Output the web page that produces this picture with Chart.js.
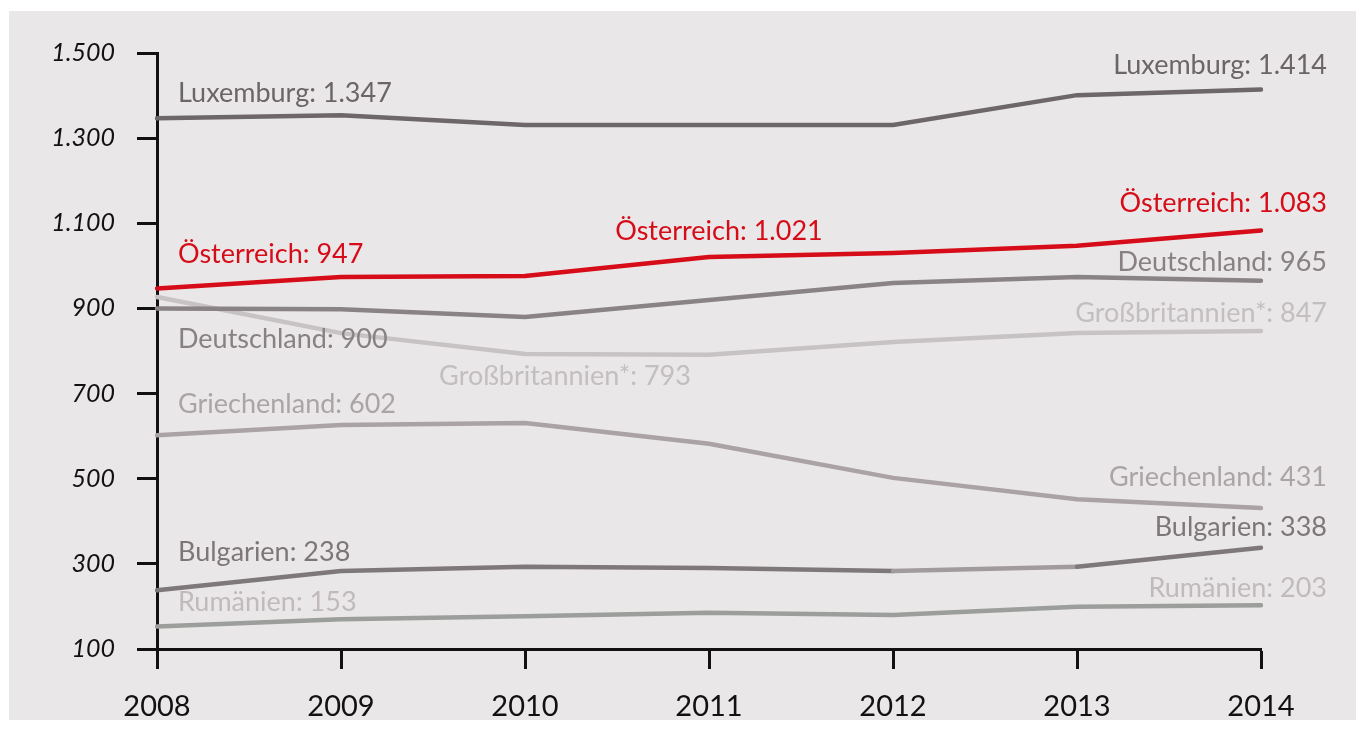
<!DOCTYPE html>
<html>
<head>
<meta charset="utf-8">
<script src="https://cdn.jsdelivr.net/npm/chart.js@4"></script>
<style>
  html, body { margin: 0; padding: 0; background: #fff; overflow: hidden; }
  .panel { position: absolute; left: 9px; top: 11px; width: 1347px; height: 709px; background: #e9e7e8; }
  .wrap { position: absolute; left: 0; top: 0; width: 1358px; height: 742px; }
</style>
</head>
<body>
<div class="panel"></div>
<div class="wrap"><canvas id="chart" width="1358" height="742"></canvas></div>
<script>
const years = ["2008", "2009", "2010", "2011", "2012", "2013", "2014"];
const yTicks = [100, 300, 500, 700, 900, 1100, 1300, 1500];

const luxemburg = [1347, 1354, 1331, 1331, 1331, 1401, 1414];
const oesterreich = [947, 974, 976, 1021, 1030, 1047, 1083];
const deutschland = [900, 898, 880, 920, 960, 974, 965];
const grossbritannien = [927, 842, 793, 791, 821, 842, 847];
const griechenland = [602, 626, 631, 582, 502, 452, 431];
const bulgarien = [238, 283, 293, 290, 283, 293, 338];
const rumaenien = [153, 170, 177, 185, 180, 199, 203];

const FONT = "Lato, 'Open Sans', sans-serif";

function formatDe(v) {
  return String(v).replace(/\B(?=(\d{3})+(?!\d))/g, ".");
}

// name, data, line colour, text colour
const series = [
  { name: "Österreich", data: oesterreich, line: "#d60c18", text: "#d60c18" },
  { name: "Luxemburg", data: luxemburg, line: "#6e6769", text: "#6b6567" },
  { name: "Deutschland", data: deutschland, line: "#8a8385", text: "#878183" },
  { name: "Bulgarien", data: bulgarien, line: "#7f787b", text: "#7d7679" },
  { name: "Großbritannien*", data: grossbritannien, line: "#c7c2c4", text: "#c3bec0" },
  { name: "Griechenland", data: griechenland, line: "#aaa2a5", text: "#aba4a7" },
  { name: "Rumänien", data: rumaenien, line: "#9c9e9c", text: "#c0babd" }
];

// which point gets a label and where it sits relative to that point
const labels = [
  { s: "Luxemburg", i: 0, align: "left", dx: 21, dy: -25 },
  { s: "Luxemburg", i: 6, align: "right", dx: 66, dy: -24 },
  { s: "Österreich", i: 0, align: "left", dx: 21, dy: -34 },
  { s: "Österreich", i: 3, align: "center", dx: 10, dy: -26 },
  { s: "Österreich", i: 6, align: "right", dx: 66, dy: -27 },
  { s: "Deutschland", i: 0, align: "left", dx: 21, dy: 31 },
  { s: "Deutschland", i: 6, align: "right", dx: 66, dy: -18 },
  { s: "Großbritannien*", i: 2, align: "center", dx: 40, dy: 22 },
  { s: "Großbritannien*", i: 6, align: "right", dx: 66, dy: -18 },
  { s: "Griechenland", i: 0, align: "left", dx: 21, dy: -31 },
  { s: "Griechenland", i: 6, align: "right", dx: 66, dy: -31 },
  { s: "Bulgarien", i: 0, align: "left", dx: 21, dy: -38 },
  { s: "Bulgarien", i: 6, align: "right", dx: 66, dy: -20 },
  { s: "Rumänien", i: 0, align: "left", dx: 21, dy: -24 },
  { s: "Rumänien", i: 6, align: "right", dx: 66, dy: -17 }
];

const lineLabels = {
  id: "lineLabels",
  afterDatasetsDraw(chart) {
    const ctx = chart.ctx;
    const x = chart.scales.x;
    const y = chart.scales.y;
    ctx.save();
    ctx.font = "27px " + FONT;
    ctx.textBaseline = "middle";
    labels.forEach((l) => {
      const s = series.find((d) => d.name === l.s);
      const px = x.getPixelForValue(l.i);
      const py = y.getPixelForValue(s.data[l.i]);
      ctx.fillStyle = s.text;
      ctx.textAlign = l.align;
      ctx.fillText(s.name + ": " + formatDe(s.data[l.i]), px + l.dx, py + l.dy);
    });
    ctx.restore();
  }
};

const datasets = series.map((s, k) => ({
  label: s.name,
  data: s.data,
  borderColor: s.line,
  borderWidth: 4.5,
  borderCapStyle: "round",
  pointRadius: 0,
  tension: 0,
  order: k,
  segment: s.name === "Bulgarien"
    ? { borderColor: (c) => (c.p0DataIndex === 4 ? "#a29b9e" : undefined) }
    : undefined
}));

new Chart(document.getElementById("chart"), {
  type: "line",
  data: { labels: years, datasets: datasets },
  options: {
    responsive: false,
    animation: false,
    devicePixelRatio: 1,
    layout: { padding: { top: 53, right: 97, left: 0, bottom: 0 } },
    plugins: { legend: { display: false }, tooltip: { enabled: false } },
    scales: {
      x: {
        offset: false,
        grid: { drawOnChartArea: false, drawTicks: true, tickLength: 20, tickWidth: 3, tickColor: "#111", offset: false },
        border: { display: true, color: "#111", width: 3 },
        ticks: { color: "#111", font: { family: FONT, size: 29 }, padding: 20, maxRotation: 0 },
        afterFit(scale) { scale.height = 93; }
      },
      y: {
        min: 100,
        max: 1500,
        afterBuildTicks(scale) { scale.ticks = yTicks.map((v) => ({ value: v })); },
        grid: { drawOnChartArea: false, drawTicks: true, tickLength: 20, tickWidth: 3, tickColor: "#111" },
        border: { display: true, color: "#111", width: 3 },
        ticks: { color: "#111", font: { family: FONT, size: 25, style: "italic" }, padding: 22, callback: (v) => formatDe(v) },
        afterFit(scale) { scale.width = 157; }
      }
    }
  },
  plugins: [lineLabels]
});
</script>
</body>
</html>
